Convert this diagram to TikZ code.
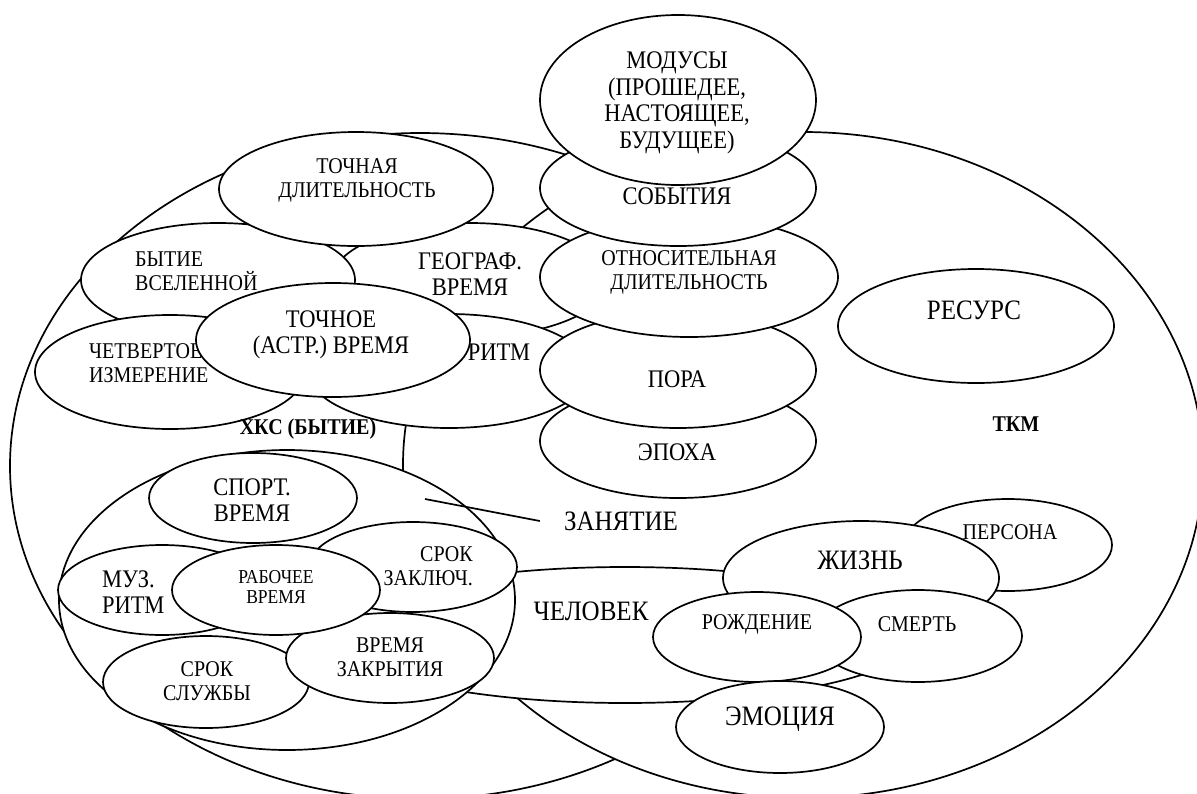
\documentclass[tikz,border=0pt]{standalone}
\usepackage{fontspec}
\setmainfont{Liberation Serif}[FakeStretch=0.89]
\usetikzlibrary{shapes.geometric}
\tikzset{
  oval/.style={draw, ellipse, fill=white, line width=1.7pt, inner sep=0pt},
  txt/.style={inner sep=0pt, align=center, font=\fontsize{22.5}{24}\selectfont},
  txtmid/.style={inner sep=0pt, align=center, font=\fontsize{25.3}{26}\selectfont},
  txtbig/.style={inner sep=0pt, align=center, font=\fontsize{28.1}{30}\selectfont},
  txtsmall/.style={inner sep=0pt, align=center, font=\fontsize{19.7}{20}\selectfont},
  txtbold/.style={inner sep=0pt, font=\fontsize{22.5}{24}\selectfont\bfseries},
}
\begin{document}
\begin{tikzpicture}[x=1pt, y=-1pt]
\useasboundingbox (0,0) rectangle (1197,793);
\clip (0,0) rectangle (1197,793);
\fill[white] (0,0) rectangle (1197,793);
% the two big fields
\node[oval, minimum width=820, minimum height=666] (xks) at (420,466) {};
\node[oval, minimum width=800, minimum height=666] (tkm) at (803,465) {};
% left group
\node[oval, minimum width=276, minimum height=114] (geo) at (470,280) {};
\node[txtmid] (geot) at (470,274) {ГЕОГРАФ.\\ВРЕМЯ};
\node[oval, minimum width=274, minimum height=114] (bytie) at (218,280) {};
\node[txt, align=left, anchor=west] (bytiet) at (135,271) {БЫТИЕ\\ВСЕЛЕННОЙ};
\node[oval, minimum width=274, minimum height=114] (tdlit) at (356,189) {};
\node[txt] (tdlitt) at (357,180) {ТОЧНАЯ\\ДЛИТЕЛЬНОСТЬ};
\node[oval, minimum width=282, minimum height=114] (ritm) at (449,371) {};
\node[txtmid] (ritmt) at (499,352) {РИТМ};
\node[oval, minimum width=270, minimum height=114] (chetv) at (170,372) {};
\node[txt, align=left, anchor=west] (chetvt) at (89,363) {ЧЕТВЕРТОЕ\\ИЗМЕРЕНИЕ};
\node[oval, minimum width=274, minimum height=114] (tvrem) at (333,340) {};
\node[txtmid] (tvremt) at (331,335) {ТОЧНОЕ\\(АСТР.) ВРЕМЯ};
% middle column
\node[oval, minimum width=276, minimum height=114] (epoha) at (678,441) {};
\node[txtmid] (epohat) at (677,452) {ЭПОХА};
\node[oval, minimum width=276, minimum height=116] (pora) at (678,370) {};
\node[txtmid] (porat) at (677,379) {ПОРА};
\node[oval, minimum width=298, minimum height=120] (otnos) at (689,277) {};
\node[txt] (otnost) at (689,272) {ОТНОСИТЕЛЬНАЯ\\ДЛИТЕЛЬНОСТЬ};
\node[oval, minimum width=276, minimum height=116] (sobyt) at (678,188) {};
\node[txtmid] (sobytt) at (677,196) {СОБЫТИЯ};
\node[oval, minimum width=276, minimum height=170] (modus) at (678,100) {};
\node[txtmid, font=\fontsize{25.3}{26.5}\selectfont] (modust) at (677,103) {МОДУСЫ\\(ПРОШЕДЕЕ,\\НАСТОЯЩЕЕ,\\БУДУЩЕЕ)};
\node[oval, minimum width=276, minimum height=114] (resurs) at (976,326) {};
\node[txtbig] (resurst) at (974,310) {РЕСУРС};
% man and occupation
\node[oval, minimum width=584, minimum height=136] (chel) at (625,635) {};
\node[txtbig] (chelt) at (591,611) {ЧЕЛОВЕК};
\node[oval, minimum width=456, minimum height=300] (zan) at (287,600) {};
\node[oval, minimum width=208, minimum height=90] (sport) at (253,498) {};
\node[txtmid] (sportt) at (252,500) {СПОРТ.\\ВРЕМЯ};
\node[oval, minimum width=206, minimum height=92] (sluzh) at (206,682) {};
\node[txt] (sluzht) at (207,681) {СРОК\\СЛУЖБЫ};
\node[oval, minimum width=208, minimum height=90] (zakr) at (390,658) {};
\node[txt] (zakrt) at (390,657) {ВРЕМЯ\\ЗАКРЫТИЯ};
\node[oval, minimum width=208, minimum height=90] (zakl) at (413,567) {};
\node[txt, align=right, anchor=east] (zaklt) at (473,566) {СРОК\\ЗАКЛЮЧ.};
\node[oval, minimum width=208, minimum height=90] (muz) at (162,590) {};
\node[txtmid, align=left, anchor=west] (muzt) at (102,592) {МУЗ.\\РИТМ};
\node[oval, minimum width=208, minimum height=90] (rab) at (276,590) {};
\node[txtsmall] (rabt) at (276,587) {РАБОЧЕЕ\\ВРЕМЯ};
\coordinate (zanptr) at (425,499);
\node[txtbig, inner xsep=24pt] (zant) at (621,521) {ЗАНЯТИЕ};
\draw[line width=1.7pt] (zanptr) -- (zant.west);
% life
\node[oval, minimum width=208, minimum height=92] (pers) at (1008,545) {};
\node[txt] (perst) at (1010,532) {ПЕРСОНА};
\node[oval, minimum width=276, minimum height=114] (zhizn) at (861,578) {};
\node[txtbig] (zhiznt) at (860,560) {ЖИЗНЬ};
\node[oval, minimum width=208, minimum height=92] (smert) at (918,636) {};
\node[txt] (smertt) at (917,624) {СМЕРТЬ};
\node[oval, minimum width=208, minimum height=90] (rozhd) at (757,637) {};
\node[txt] (rozhdt) at (757,624) {РОЖДЕНИЕ};
\node[oval, minimum width=208, minimum height=92] (emoc) at (780,727) {};
\node[txtbig] (emoct) at (780,719) {ЭМОЦИЯ};
% field labels
\node[txtbold] (xkst) at (308,429) {ХКС (БЫТИЕ)};
\node[txtbold] (tkmt) at (1016,424) {ТКМ};
\end{tikzpicture}
\end{document}
